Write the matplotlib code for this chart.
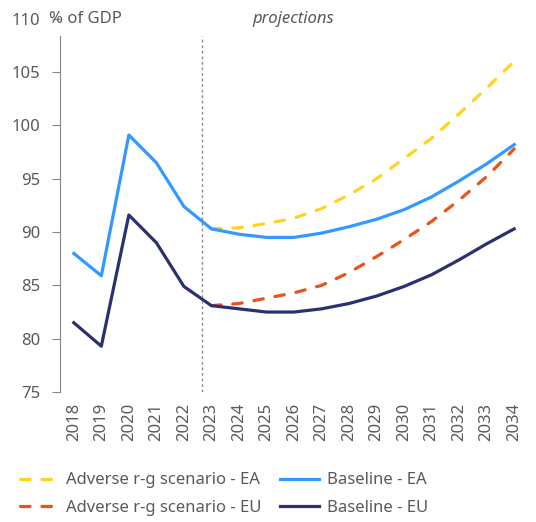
import matplotlib.pyplot as plt

plt.rcParams['font.family'] = ['Noto Sans', 'DejaVu Sans']

years = list(range(2018, 2035))
proj_years = list(range(2023, 2035))

baseline_ea = [88.0, 85.9, 99.1, 96.5, 92.4, 90.3, 89.8, 89.5, 89.5, 89.9,
               90.5, 91.2, 92.1, 93.3, 94.8, 96.4, 98.2]
baseline_eu = [81.5, 79.3, 91.6, 89.0, 84.9, 83.1, 82.8, 82.5, 82.5, 82.8,
               83.3, 84.0, 84.9, 86.0, 87.4, 88.9, 90.3]
adverse_ea = [90.3, 90.4, 90.8, 91.3, 92.2, 93.5, 95.0, 96.9, 98.8, 101.1, 103.5, 106.0]
adverse_eu = [83.1, 83.3, 83.8, 84.3, 85.0, 86.2, 87.7, 89.3, 91.0, 93.0, 95.2, 97.8]

grey = '#595959'
lw = 2.3
dash = (3, 3.7)

fig = plt.figure(figsize=(5.36, 5.22), dpi=100)
ax = fig.add_axes([0.112, 0.249, 0.873, 0.715])

l_aea, = ax.plot(proj_years, adverse_ea, color='#FFD320', lw=lw, dashes=dash,
                 dash_capstyle='round', label='Adverse r-g scenario - EA')
l_aeu, = ax.plot(proj_years, adverse_eu, color='#E8541C', lw=lw, dashes=dash,
                 dash_capstyle='round', label='Adverse r-g scenario - EU')
l_bea, = ax.plot(years, baseline_ea, color='#3399FF', lw=lw, label='Baseline - EA')
l_beu, = ax.plot(years, baseline_eu, color='#2B3070', lw=lw, label='Baseline - EU')

# start of projections
ax.plot([2022.65, 2022.65], [75, 108.4], color='#8C8C8C', lw=1, ls=(0, (2, 2)))

ax.set_xlim(2017.5, 2034.5)
ax.set_ylim(75, 110)
ax.set_yticks(range(75, 111, 5))
ax.set_xticks(years)
ax.set_xticklabels([str(y) for y in years], rotation=90)

for s in ['top', 'right', 'bottom']:
    ax.spines[s].set_visible(False)
ax.spines['left'].set_color('#868686')
ax.spines['left'].set_bounds(75, 108.4)
ax.tick_params(axis='y', length=6, color='#868686', labelcolor=grey, labelsize=12, pad=8)
ax.tick_params(axis='x', length=0, labelcolor=grey, labelsize=12, pad=8)

fig.text(0.091, 1 - 19 / 522, '% of GDP', color=grey, fontsize=12, va='center')
fig.text(293 / 536, 1 - 19 / 522, 'projections', color=grey, fontsize=12,
         style='italic', ha='center', va='center')

fig.legend(handles=[l_aea, l_aeu, l_bea, l_beu], ncol=2, frameon=False,
           loc='upper left', bbox_to_anchor=(0.037, 0.095), borderpad=0,
           borderaxespad=0, handlelength=2.3, handletextpad=0.5,
           columnspacing=1.1, labelspacing=0.7, fontsize=12, labelcolor=grey)

fig.savefig('out.png', dpi=100)
